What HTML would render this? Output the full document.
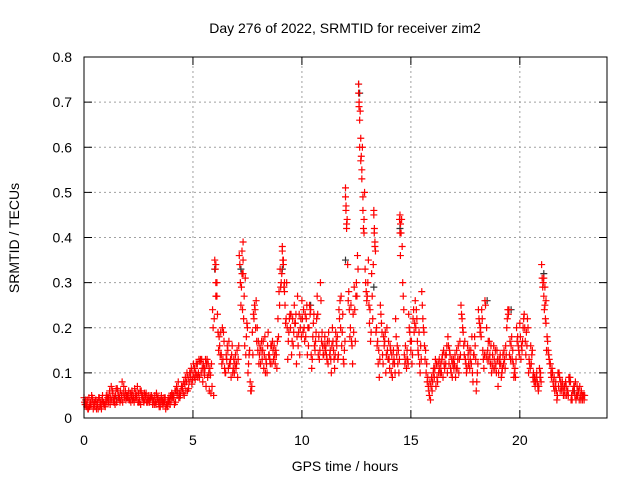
<!DOCTYPE html>
<html><head><meta charset="utf-8"><style>
body{margin:0;background:#fff}
svg{display:block;font-family:"Liberation Sans",sans-serif}
</style></head><body>
<svg id="chart" width="640" height="480" viewBox="0 0 640 480">
<text x="345" y="33" font-size="14" text-anchor="middle">Day 276 of 2022, SRMTID for receiver zim2</text>
<text x="345" y="471" font-size="14" text-anchor="middle">GPS time / hours</text>
<text transform="translate(19,238) rotate(-90)" font-size="14" text-anchor="middle">SRMTID / TECUs</text>
<g id="grid"></g>
<g id="axes"></g>
<g id="black-series"></g>
<g id="red-series"></g>
<rect x="84" y="57" width="523" height="361" fill="none" stroke="#000" stroke-width="1"/>
</svg>
<script>
const xTicks=[0,5,10,15,20];
const yTicks=[0,0.1,0.2,0.3,0.4,0.5,0.6,0.7,0.8];
const yTickLabels=["0","0.1","0.2","0.3","0.4","0.5","0.6","0.7","0.8"];
const redA=[.045,.03,.02,.035,.04,.025,.03,.045,.02,.035,
.04,.05,.03,.06,.045,.035,.05,.04,.055,.06,
.05,.04,.06,.035,.045,.055,.03,.05,.04,.045,
.035,.05,.04,.03,.045,.025,.04,.035,.03,.045,
.04,.05,.035,.06,.045,.07,.05,.08,.065,.09,
.1,.085,.12,.09,.13,.11,.07,.12,.095,.24,
.35,.27,.18,.14,.19,.1,.15,.12,.16,.1,
.12,.16,.25,.39,.31,.2,.15,.07,.22,.26,
.17,.12,.15,.18,.1,.14,.16,.13,.15,.22,
.33,.37,.28,.3,.19,.23,.16,.21,.27,.14,
.26,.2,.22,.16,.24,.18,.15,.27,.13,.17,
.14,.16,.12,.15,.2,.11,.16,.24,.27,.13,
.51,.34,.18,.16,.29,.3,.74,.62,.46,.33,
.27,.21,.32,.45,.19,.12,.25,.14,.17,.2,
.13,.1,.15,.22,.12,.45,.38,.14,.11,.23,
.15,.22,.26,.17,.12,.28,.19,.1,.07,.04,
.08,.11,.09,.13,.1,.15,.12,.18,.14,.09,
.12,.15,.1,.25,.19,.13,.16,.11,.18,.14,
.06,.24,.2,.15,.26,.13,.17,.1,.16,.12,
.07,.14,.11,.13,.2,.24,.16,.12,.09,.18,
.21,.15,.23,.19,.1,.16,.09,.07,.08,.11,
.34,.27,.21,.15,.12,.1,.06,.04,.1,.07,
.05,.08,.06,.09,.04,.07,.05,.06,.04,.05];
const redB=[.03,.04,.025,.05,.03,.04,.02,.035,.05,.03,
.035,.045,.07,.04,.05,.06,.035,.08,.045,.05,
.06,.035,.05,.045,.07,.04,.05,.035,.055,.04,
.045,.03,.05,.04,.025,.05,.035,.02,.04,.03,
.05,.03,.07,.045,.06,.055,.09,.06,.1,.075,
.09,.12,.1,.13,.08,.11,.13,.06,.12,.05,
.3,.19,.14,.2,.11,.13,.17,.09,.11,.14,
.09,.34,.32,.27,.18,.12,.06,.14,.24,.2,
.14,.17,.11,.13,.19,.12,.17,.14,.11,.28,
.3,.34,.21,.13,.23,.17,.25,.12,.19,.22,
.19,.23,.14,.25,.11,.23,.19,.14,.3,.16,
.18,.13,.17,.1,.15,.19,.13,.26,.19,.15,
.42,.28,.25,.23,.17,.36,.66,.55,.41,.28,
.35,.17,.22,.39,.16,.09,.21,.18,.1,.13,
.16,.09,.12,.14,.1,.41,.27,.16,.13,.19,
.12,.19,.24,.14,.16,.22,.13,.08,.05,.09,
.11,.07,.12,.1,.14,.11,.16,.12,.1,.13,
.09,.13,.17,.22,.14,.1,.12,.15,.08,.16,
.1,.21,.24,.11,.14,.17,.12,.14,.11,.15,
.13,.09,.12,.16,.24,.17,.13,.1,.2,.15,
.13,.2,.17,.22,.12,.14,.08,.09,.06,.1,
.29,.25,.18,.13,.09,.07,.08,.1,.06,.08,
.07,.05,.09,.04,.06,.08,.05,.07,.05,.04];
const redC=[.035,.025,.045,.03,.02,.04,.035,.025,.04,.03,
.05,.035,.045,.055,.03,.065,.045,.05,.07,.04,
.045,.055,.04,.065,.05,.035,.06,.04,.05,.035,
.04,.045,.03,.055,.035,.04,.03,.045,.025,.04,
.055,.045,.06,.08,.05,.065,.075,.1,.08,.11,
.12,.1,.09,.125,.11,.095,.12,.1,.055,.2,
.33,.23,.16,.12,.17,.14,.11,.13,.1,.12,
.15,.36,.29,.22,.14,.1,.08,.19,.25,.17,
.12,.15,.17,.1,.16,.13,.12,.16,.14,.18,
.29,.35,.25,.2,.22,.14,.19,.23,.16,.2,
.22,.17,.25,.2,.14,.21,.17,.23,.15,.19,
.16,.14,.19,.13,.17,.14,.18,.22,.16,.12,
.47,.26,.2,.12,.24,.27,.7,.58,.42,.3,
.3,.24,.27,.42,.2,.15,.23,.12,.19,.15,
.11,.14,.13,.18,.15,.43,.3,.12,.15,.2,
.17,.24,.2,.15,.1,.25,.16,.12,.06,.07,
.1,.13,.08,.11,.13,.12,.14,.16,.11,.12,
.14,.11,.13,.23,.16,.12,.14,.13,.1,.18,
.08,.22,.18,.13,.25,.15,.14,.12,.13,.1,
.1,.12,.14,.11,.22,.14,.18,.09,.13,.16,
.18,.17,.2,.16,.13,.12,.1,.08,.07,.09,
.31,.24,.15,.14,.1,.08,.07,.05,.09,.06,
.06,.07,.05,.08,.06,.05,.07,.04,.06,.05];
const redD=[.04,.02,.03,.045,.035,.02,.045,.03,.035,.025,
.045,.06,.04,.035,.065,.045,.06,.035,.05,.045,
.04,.05,.045,.055,.035,.06,.045,.055,.035,.05,
.05,.04,.035,.045,.04,.035,.045,.03,.035,.05,
.045,.06,.05,.055,.07,.08,.06,.09,.1,.085,
.11,.095,.13,.1,.12,.13,.09,.11,.07,.22,
.27,.15,.19,.13,.1,.16,.12,.14,.13,.11,
.13,.3,.24,.16,.21,.14,.06,.23,.2,.15,
.16,.13,.14,.12,.14,.16,.15,.12,.17,.25,
.32,.29,.22,.17,.2,.22,.21,.18,.23,.18,
.24,.18,.2,.23,.13,.16,.22,.18,.26,.14,
.15,.17,.14,.16,.13,.17,.14,.2,.23,.17,
.44,.24,.17,.19,.27,.33,.68,.6,.5,.26,
.25,.19,.34,.37,.17,.13,.19,.16,.14,.17,
.15,.12,.1,.16,.13,.44,.24,.13,.12,.17,
.14,.21,.22,.19,.13,.2,.15,.09,.08,.06,
.09,.12,.1,.12,.09,.14,.1,.15,.13,.11,
.11,.16,.14,.2,.17,.11,.15,.12,.14,.13,
.12,.19,.22,.14,.2,.13,.16,.11,.15,.13,
.12,.1,.15,.14,.23,.13,.15,.11,.17,.14,
.16,.22,.14,.2,.11,.15,.09,.1,.07,.08,
.3,.22,.17,.12,.11,.09,.06,.07,.08,.07,
.05,.06,.08,.05,.07,.04,.06,.05,.04,.05];
const peakT=[6.05,6.05,6.1,7.25,7.3,7.3,9.1,9.15,9.2,12.0,12.02,12.05,12.6,12.62,12.65,12.7,12.75,12.8,12.85,13.3,13.32,13.35,14.48,14.5,14.52,21.1,21.15,21.2];
const peakV=[.34,.27,.3,.37,.35,.32,.38,.35,.3,.49,.46,.43,.72,.69,.6,.57,.53,.49,.44,.46,.41,.38,.44,.41,.36,.31,.29,.26];
const blackT=[1.5,3.0,6.0,7.2,9.1,10.4,12.0,12.6,12.65,13.3,14.5,18.5,19.6,21.1,22.5];
const blackV=[.04,.04,.33,.33,.33,.25,.35,.74,.72,.29,.42,.26,.24,.32,.06];
const X0=84,X1=607,Y0=418,Y1=57,XMAX=24,YMAX=0.8;
function xs(t){return X0+(X1-X0)*t/XMAX;}
function ys(v){return Y0-(Y0-Y1)*v/YMAX;}
const NS="http://www.w3.org/2000/svg";
const grid=document.getElementById('grid'),axes=document.getElementById('axes');
function mk(tag,attrs,parent){const e=document.createElementNS(NS,tag);for(const k in attrs)e.setAttribute(k,attrs[k]);parent.appendChild(e);return e;}
yTicks.forEach((v,i)=>{const y=ys(v);
 if(i>0&&i<yTicks.length-1){const g=mk('line',{x1:X0,x2:X1,y1:y,y2:y,stroke:'#a0a0a0','stroke-dasharray':'2,3'},grid);
 
 }
 mk('line',{x1:X0,x2:X0+8,y1:y,y2:y,stroke:'#000'},axes);
 mk('line',{x1:X1,x2:X1-8,y1:y,y2:y,stroke:'#000'},axes);
 const t=mk('text',{x:X0-12,y:y+5,'font-size':14,'text-anchor':'end'},axes);t.textContent=yTickLabels[i];
 
 
});
xTicks.forEach((v,i)=>{const x=xs(v);
 if(i>0){const g=mk('line',{x1:x,x2:x,y1:Y0,y2:Y1,stroke:'#a0a0a0','stroke-dasharray':'2,3'},grid);
 
 }
 mk('line',{x1:x,x2:x,y1:Y0,y2:Y0-8,stroke:'#000'},axes);
 mk('line',{x1:x,x2:x,y1:Y1,y2:Y1+8,stroke:'#000'},axes);
 const t=mk('text',{x:x,y:Y0+27,'font-size':14,'text-anchor':'middle'},axes);t.textContent=String(v);
 
 
});
function plus(g,t,v,color,name){const x=xs(t),y=ys(v);
 const p=mk('path',{d:`M${x-3.5},${y}H${x+3.5}M${x},${y-3.5}V${y+3.5}`,stroke:color,'stroke-width':1.2,fill:'none'},g);
 
 
}
const bg=document.getElementById('black-series');
blackT.forEach((t,i)=>plus(bg,t,blackV[i],'#333','black-point'));
const rg=document.getElementById('red-series');
redA.forEach((v,i)=>plus(rg,i*0.1,v,'#ff0000','red-point'));
redB.forEach((v,i)=>plus(rg,i*0.1+0.05,v,'#ff0000','red-point'));
redC.forEach((v,i)=>plus(rg,i*0.1+0.025,v,'#ff0000','red-point'));
redD.forEach((v,i)=>plus(rg,i*0.1+0.075,v,'#ff0000','red-point'));
peakT.forEach((t,i)=>plus(rg,t,peakV[i],'#ff0000','red-point'));
</script>
</body></html>
